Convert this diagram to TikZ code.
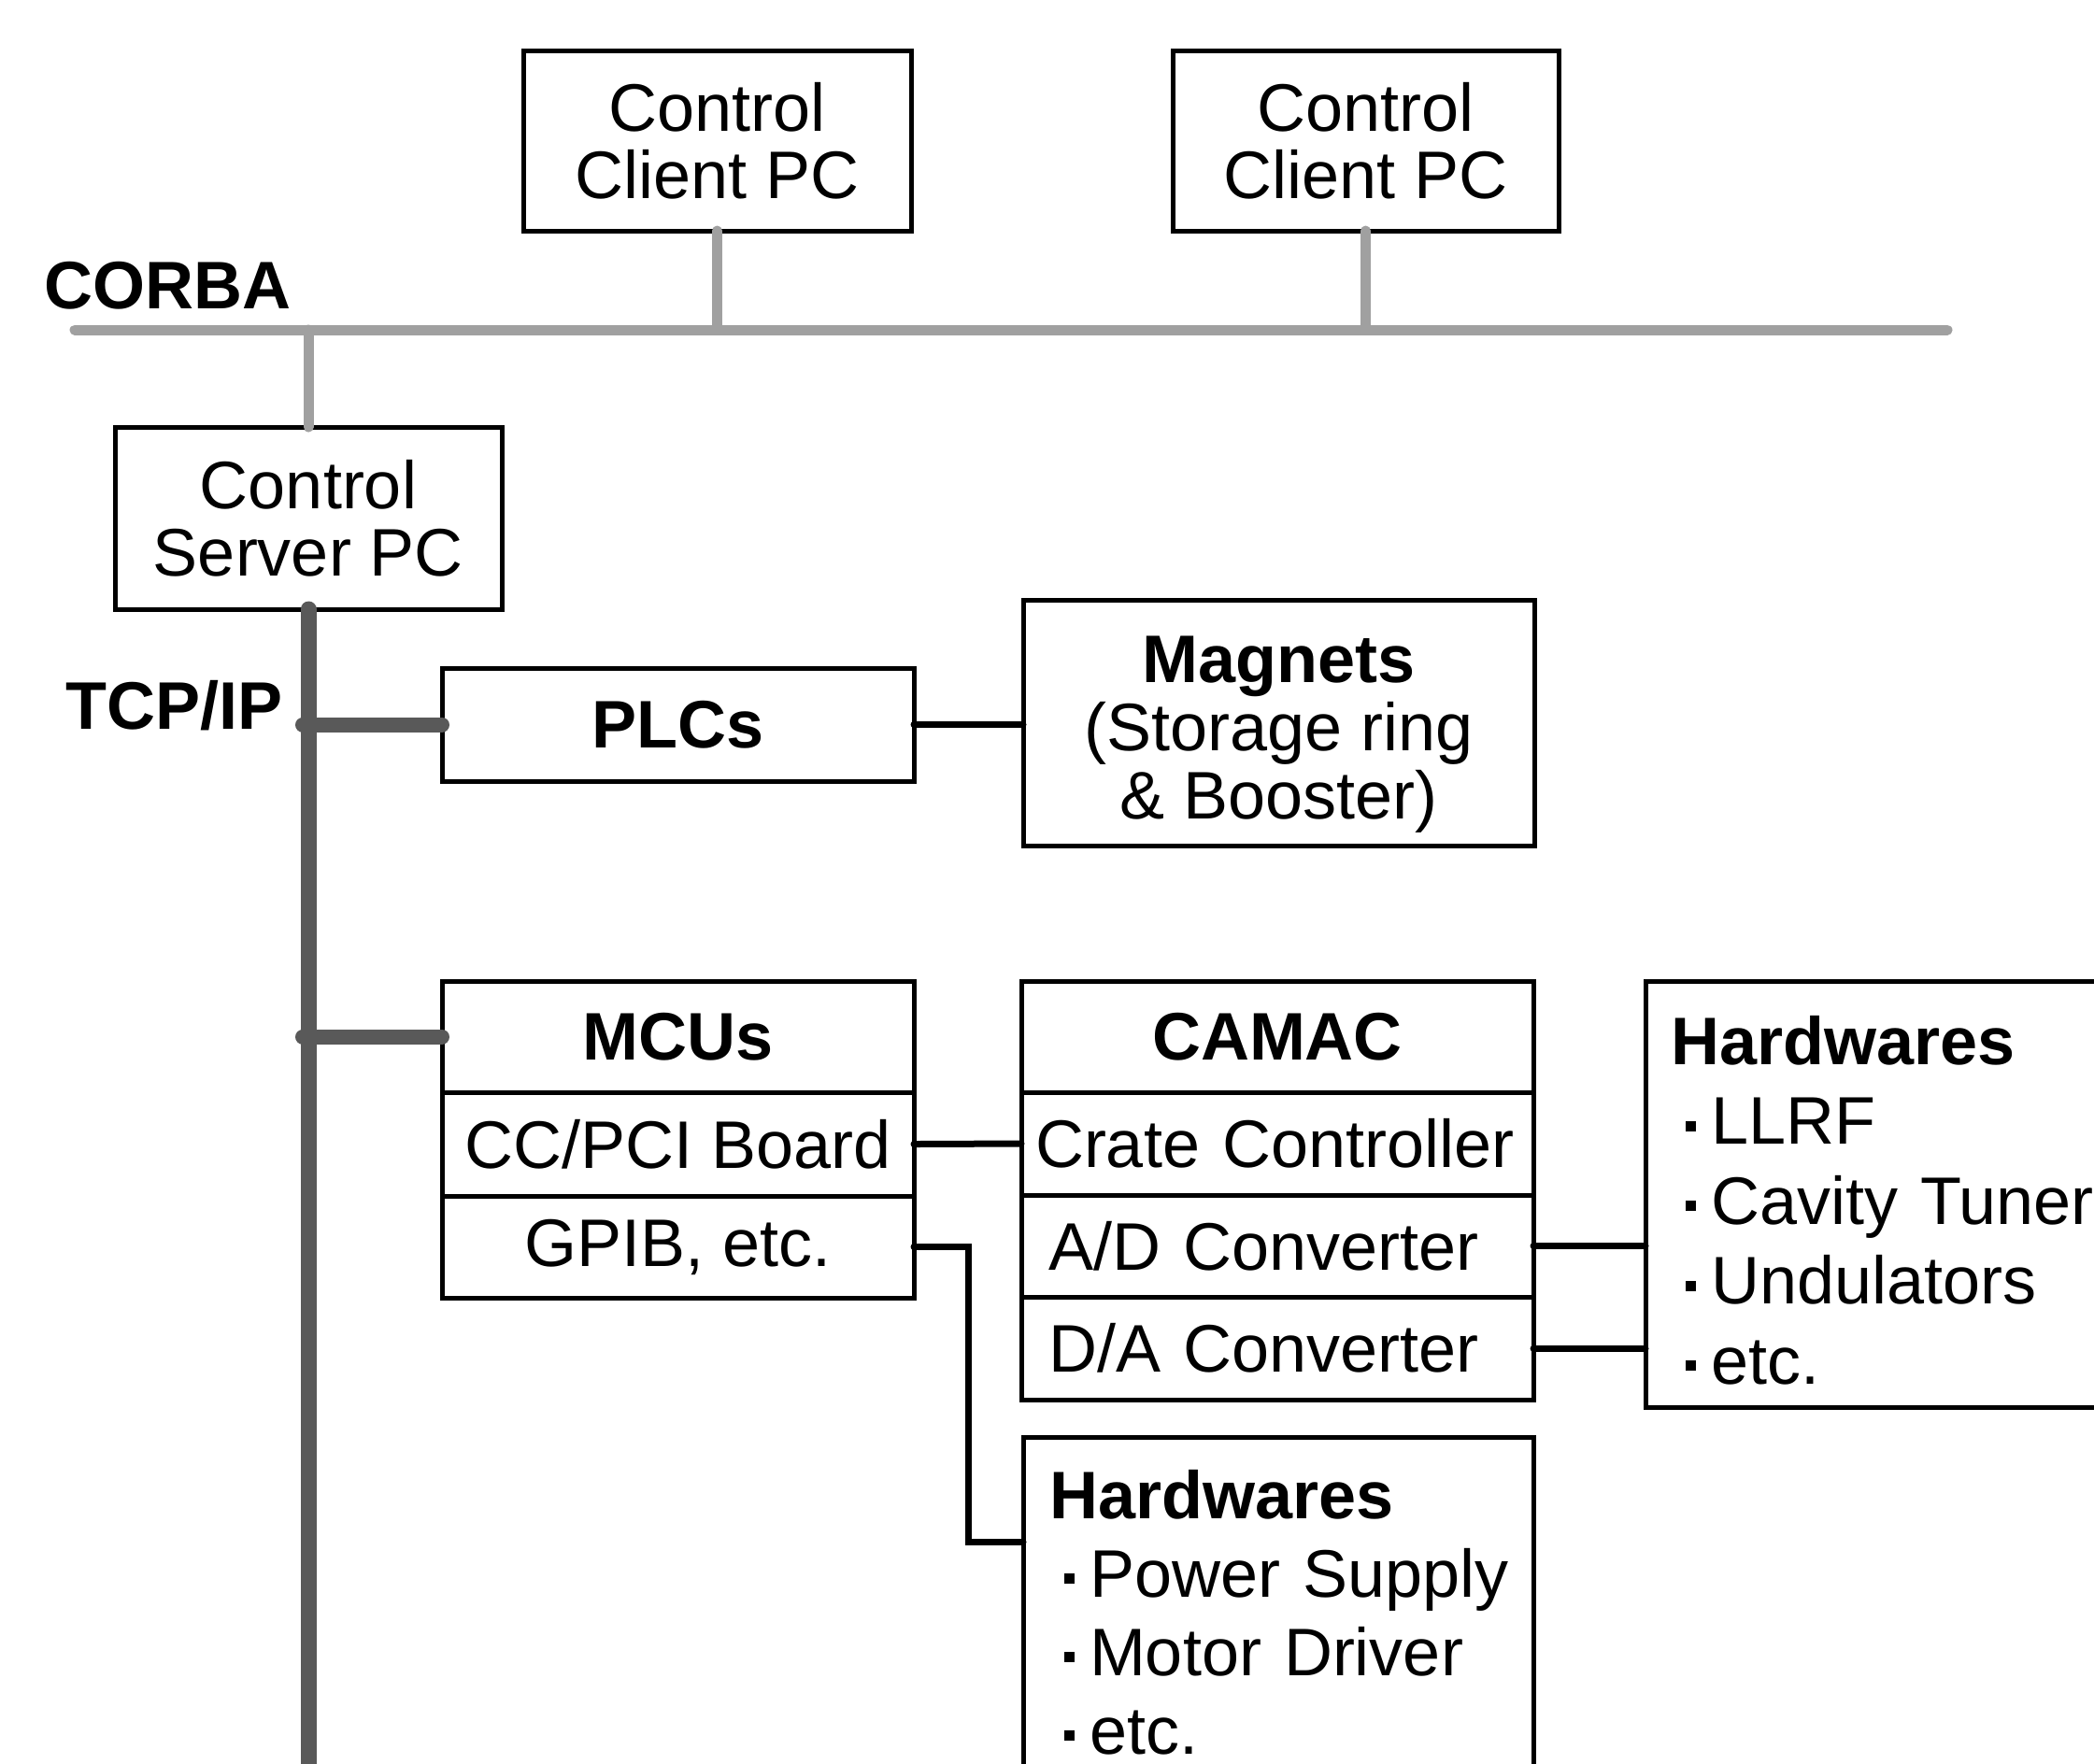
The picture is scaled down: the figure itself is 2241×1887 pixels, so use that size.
\documentclass[tikz,border=0pt]{standalone}
\usepackage{fontspec}
\setmainfont{Liberation Sans}
\newcommand\sqb{\rule[0.19em]{5.5pt}{5.5pt}\hspace{8pt}}
\begin{document}
\begin{tikzpicture}[x=0.5pt,y=-0.5pt,
  box/.style={draw, line width=2.5pt, inner sep=0pt, outer sep=0pt, align=center,
    font=\fontsize{36pt}{36pt}\selectfont},
  cellbox/.style={box, anchor=north west, minimum width=#1},
  corba/.style={line width=5.5pt, color=corbagray, line cap=round},
  tcp/.style={line width=8.5pt, color=tcpgray, line cap=round},
  tap/.style={line width=8pt, color=tcpgray, line cap=round},
  conn/.style={line width=3.5pt, line cap=round, line join=miter},
  lbl/.style={anchor=base west, inner sep=0pt,
    font=\fontsize{36pt}{36pt}\selectfont\bfseries}]
\definecolor{corbagray}{RGB}{160,160,160}
\definecolor{tcpgray}{RGB}{89,89,89}
\useasboundingbox (0,0) rectangle (2241,1887);

% top level boxes
\node[box, minimum width=207.5pt, minimum height=96.5pt] (client1) at (767.5,150.5) {Control\\Client PC};
\node[box, minimum width=206.5pt, minimum height=96.5pt] (client2) at (1461.5,150.5) {Control\\Client PC};
\node[box, minimum width=207pt, minimum height=97.5pt] (server) at (330,554.5) {Control\\Server PC};

\node[lbl] (corbalbl) at (47,330) {CORBA};
\node[lbl] (tcplbl) at (70,780) {TCP/IP};

% PLC and magnets
\node[box, minimum width=252.5pt, minimum height=60.5pt, font=\fontsize{36pt}{36pt}\selectfont\bfseries] (plc) at (725.5,775.5) {PLCs};
\node[box, minimum width=273.5pt, minimum height=131.5pt, font=\fontsize{36pt}{36.5pt}\selectfont] (magnets) at (1368.5,773.5) {\rule{0pt}{37pt}\textbf{Magnets}\\(Storage ring\\\& Booster)};

% MCU stack
\node[cellbox=252.5pt, minimum height=59.5pt, font=\fontsize{36pt}{36pt}\selectfont\bfseries] (mcu) at (473,1050) {MCUs};
\node[cellbox=252.5pt, minimum height=55.5pt] (ccpci) at (mcu.south west) {CC/PCI Board};
\node[cellbox=252.5pt, minimum height=54.5pt] (gpib) at (ccpci.south west) {GPIB, etc.};

% CAMAC stack
\node[cellbox=274pt, minimum height=59.5pt, font=\fontsize{36pt}{36pt}\selectfont\bfseries] (camac) at (1093,1050) {CAMAC};
\node[cellbox=274pt, minimum height=55pt, align=left, inner xsep=7.5pt, text width=259pt] (crate) at (camac.south west) {Crate Controller};
\node[cellbox=274pt, minimum height=54.5pt, align=left, inner xsep=14.5pt, text width=245pt] (adc) at (crate.south west) {A/D Converter};
\node[cellbox=274pt, minimum height=55pt, align=left, inner xsep=14.5pt, text width=245pt] (dac) at (adc.south west) {D/A Converter};

% Hardwares boxes
\node[box, anchor=north west, align=left, inner xsep=13.5pt, inner ysep=0pt,
  text width=260pt, text height=44.5pt, text depth=183.5pt,
  font=\fontsize{36pt}{42.75pt}\selectfont] (hw1) at (1761,1050)
  {\textbf{Hardwares}\\\hspace*{8pt}\sqb LLRF\\\hspace*{8pt}\sqb Cavity Tuner\\\hspace*{8pt}\sqb Undulators\\\hspace*{8pt}\sqb etc.};
\node[box, anchor=north west, align=left, inner xsep=4pt, inner ysep=0pt,
  text width=265pt, text height=43.5pt, text depth=146pt,
  font=\fontsize{36pt}{42pt}\selectfont] (hw2) at (1095,1538)
  {\hspace*{10pt}\textbf{Hardwares}\\\hspace*{18pt}\sqb Power Supply\\\hspace*{18pt}\sqb Motor Driver\\\hspace*{18pt}\sqb etc.};

% CORBA bus
\coordinate (busL) at (80,353);
\coordinate (busR) at (2084,353);
\draw[corba] (busL) -- (busR);
\draw[corba] (client1.south) -- (client1.south |- busL);
\draw[corba] (client2.south) -- (client2.south |- busL);
\draw[corba] (server.north) -- (server.north |- busL);

% TCP/IP bus
\coordinate (busend) at (330,1905);
\draw[tcp] (server.south) -- (busend);
\draw[tap] ([xshift=-3pt]server.south |- plc.west) -- (plc.west);
\draw[tap] ([xshift=-3pt]server.south |- mcu.west) -- (mcu.west);

% black connectors
\draw[conn] (plc.east) -- (plc.east -| magnets.west);
\draw[conn] (ccpci.east) -- (crate.west);
\draw[conn] (adc.east) -- (adc.east -| hw1.west);
\draw[conn] (dac.east) -- (dac.east -| hw1.west);
\draw[conn] (gpib.east) -- ++(58,0) |- ([yshift=-56pt]hw2.north west);
\end{tikzpicture}
\end{document}
